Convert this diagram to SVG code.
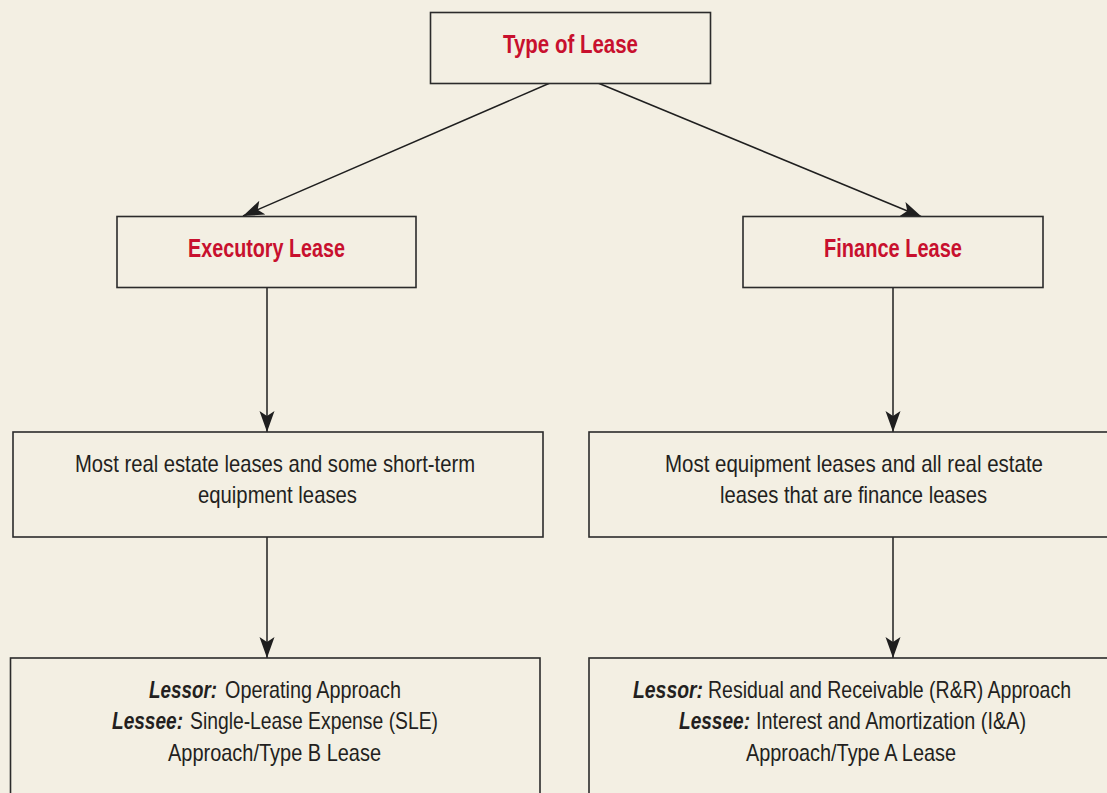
<svg xmlns="http://www.w3.org/2000/svg" width="1107" height="793" viewBox="0 0 1107 793">
<style>
.box{fill:#F3EFE3;stroke:#2b2b2b;stroke-width:1.6}
.t{font-family:"Liberation Sans",Arial,sans-serif;font-size:24px;fill:#231F20}
.h{font-family:"Liberation Sans",Arial,sans-serif;font-size:25px;font-weight:bold;fill:#C8102E}
.bi{font-family:"Liberation Sans",Arial,sans-serif;font-size:24px;fill:#231F20;font-weight:bold;font-style:italic}
.c{stroke:#1f1f1f;stroke-width:1.5;fill:none}
</style>
<defs>
<marker id="arr" markerUnits="userSpaceOnUse" markerWidth="24" markerHeight="16" refX="21" refY="7.5" orient="auto">
<path d="M0,0 L21,7.5 L0,15 L5,7.5 z" fill="#1f1f1f"/>
</marker>
</defs>
<rect width="1107" height="793" fill="#F3EFE3"/>
<g id="connectors">
<line class="c" x1="550" y1="83" x2="243" y2="216" marker-end="url(#arr)"/>
<line class="c" x1="598" y1="83" x2="922" y2="217" marker-end="url(#arr)"/>
<line class="c" x1="267" y1="288" x2="267" y2="432" marker-end="url(#arr)"/>
<line class="c" x1="893" y1="288" x2="893" y2="432" marker-end="url(#arr)"/>
<line class="c" x1="267" y1="537" x2="267" y2="658" marker-end="url(#arr)"/>
<line class="c" x1="893" y1="537" x2="893" y2="658" marker-end="url(#arr)"/>
</g>
<g id="type-of-lease">
<rect class="box" x="430.5" y="12.5" width="280" height="71"/>
<text class="h" x="503" y="53" textLength="135" lengthAdjust="spacingAndGlyphs">Type of Lease</text>
</g>
<g id="executory-lease">
<rect class="box" x="117" y="216.5" width="299" height="71"/>
<text class="h" x="188" y="257" textLength="157" lengthAdjust="spacingAndGlyphs">Executory Lease</text>
</g>
<g id="finance-lease">
<rect class="box" x="743" y="216.5" width="300" height="71"/>
<text class="h" x="824" y="257" textLength="138" lengthAdjust="spacingAndGlyphs">Finance Lease</text>
</g>
<g id="executory-uses">
<rect class="box" x="13" y="432" width="530" height="105"/>
<text class="t" x="75" y="472" textLength="400" lengthAdjust="spacingAndGlyphs">Most real estate leases and some short-term</text>
<text class="t" x="198" y="503" textLength="159" lengthAdjust="spacingAndGlyphs">equipment leases</text>
</g>
<g id="finance-uses">
<rect class="box" x="589" y="432" width="530" height="105"/>
<text class="t" x="665" y="472" textLength="378" lengthAdjust="spacingAndGlyphs">Most equipment leases and all real estate</text>
<text class="t" x="720" y="503" textLength="267" lengthAdjust="spacingAndGlyphs">leases that are finance leases</text>
</g>
<g id="executory-approach">
<rect class="box" x="10.5" y="658" width="529.5" height="150"/>
<text class="bi" x="149" y="698" textLength="68" lengthAdjust="spacingAndGlyphs">Lessor:</text>
<text class="t" x="225" y="698" textLength="176" lengthAdjust="spacingAndGlyphs">Operating Approach</text>
<text class="bi" x="112" y="729" textLength="71" lengthAdjust="spacingAndGlyphs">Lessee:</text>
<text class="t" x="190" y="729" textLength="248" lengthAdjust="spacingAndGlyphs">Single-Lease Expense (SLE)</text>
<text class="t" x="168" y="761" textLength="213" lengthAdjust="spacingAndGlyphs">Approach/Type B Lease</text>
</g>
<g id="finance-approach">
<rect class="box" x="589" y="658" width="530" height="150"/>
<text class="bi" x="633" y="698" textLength="70" lengthAdjust="spacingAndGlyphs">Lessor:</text>
<text class="t" x="708" y="698" textLength="363" lengthAdjust="spacingAndGlyphs">Residual and Receivable (R&amp;R) Approach</text>
<text class="bi" x="679" y="729" textLength="71" lengthAdjust="spacingAndGlyphs">Lessee:</text>
<text class="t" x="756" y="729" textLength="270" lengthAdjust="spacingAndGlyphs">Interest and Amortization (I&amp;A)</text>
<text class="t" x="746" y="761" textLength="210" lengthAdjust="spacingAndGlyphs">Approach/Type A Lease</text>
</g>
</svg>
